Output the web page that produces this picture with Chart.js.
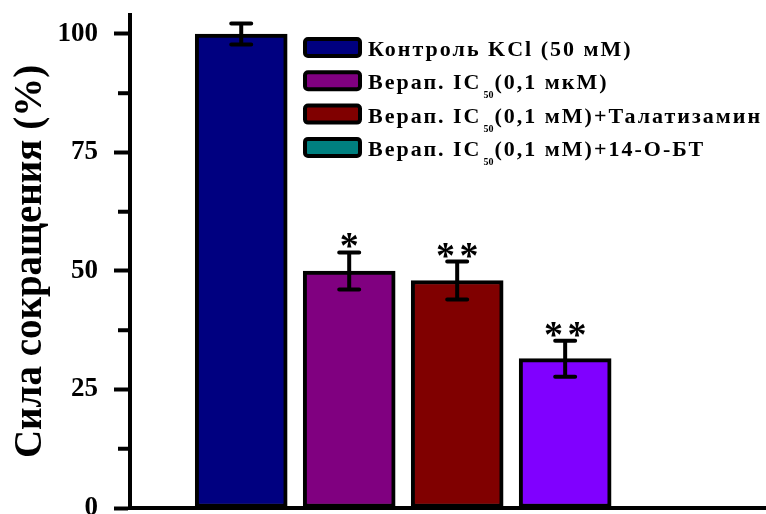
<!DOCTYPE html>
<html>
<head>
<meta charset="utf-8">
<script src="https://cdn.jsdelivr.net/npm/chart.js@4/dist/chart.umd.min.js"></script>
<style>
  html, body { margin: 0; padding: 0; background: #fff; }
  #wrap { width: 766px; height: 514px; }
</style>
</head>
<body>
<div id="wrap"><canvas id="myChart" width="766" height="514"></canvas></div>
<script>
// данные
const categories = [
  "Контроль KCl (50 мМ)",
  "Верап. IC_{50}(0,1 мкМ)",
  "Верап. IC_{50}(0,1 мМ)+Талатизамин",
  "Верап. IC_{50}(0,1 мМ)+14-О-БТ",
];
const values = [100, 50, 48, 31.5];
const errors = [2.2, 3.9, 4.0, 3.8];
const stars = ["", "*", "**", "**"];
const barColors = ["#000080", "#800080", "#800000", "#8000ff"];
const legendColors = ["#000080", "#800080", "#800000", "#008080"];
const yTicks = [0, 25, 50, 75, 100];
const yMinorTicks = [12.5, 37.5, 62.5, 87.5];

const FONT = '"Liberation Serif", "Times New Roman", serif';

// планки погрешностей и звёздочки
const errorBars = {
  id: "errorBars",
  afterDatasetsDraw(chart) {
    const ctx = chart.ctx;
    const y = chart.scales.y;
    const meta = chart.getDatasetMeta(0);
    ctx.save();
    ctx.strokeStyle = "#000";
    ctx.fillStyle = "#000";
    meta.data.forEach((bar, i) => {
      const top = y.getPixelForValue(values[i] + errors[i]);
      const bottom = y.getPixelForValue(values[i] - errors[i]);
      ctx.lineWidth = 4;
      ctx.lineCap = "butt";
      ctx.beginPath();
      ctx.moveTo(bar.x, top);
      ctx.lineTo(bar.x, bottom);
      ctx.stroke();
      ctx.lineCap = "round";
      ctx.beginPath();
      ctx.moveTo(bar.x - 10, top);
      ctx.lineTo(bar.x + 10, top);
      ctx.moveTo(bar.x - 10, bottom);
      ctx.lineTo(bar.x + 10, bottom);
      ctx.stroke();

      // звёздочки
      const s = stars[i];
      ctx.font = "bold 38px " + FONT;
      ctx.textAlign = "center";
      ctx.textBaseline = "alphabetic";
      const gap = 23.5;
      for (let k = 0; k < s.length; k++) {
        const sx = bar.x + (k - (s.length - 1) / 2) * gap;
        ctx.fillText(s[k], sx, top + 6);
      }
    });
    ctx.restore();
  },
};

// малые деления оси Y
const minorTicks = {
  id: "minorTicks",
  afterDraw(chart) {
    const ctx = chart.ctx;
    const y = chart.scales.y;
    ctx.save();
    ctx.strokeStyle = "#000";
    ctx.lineWidth = 4;
    yMinorTicks.forEach((v) => {
      const py = y.getPixelForValue(v);
      ctx.beginPath();
      ctx.moveTo(y.right - 12, py);
      ctx.lineTo(y.right, py);
      ctx.stroke();
    });
    ctx.restore();
  },
};

// легенда (с нижним индексом)
const customLegend = {
  id: "customLegend",
  afterDraw(chart) {
    const ctx = chart.ctx;
    ctx.save();
    categories.forEach((label, i) => {
      const cy = 47.5 + i * 33.3;
      // квадрат
      ctx.fillStyle = legendColors[i];
      ctx.strokeStyle = "#000";
      ctx.lineWidth = 4;
      ctx.beginPath();
      ctx.roundRect(305, cy - 8.5, 55, 17, 3);
      ctx.fill();
      ctx.stroke();

      // текст
      ctx.fillStyle = "#000";
      ctx.textAlign = "left";
      ctx.textBaseline = "alphabetic";
      const base = cy + 8.5;
      let x = 368;
      const parts = label.split(/_\{(.*?)\}/);
      parts.forEach((p, k) => {
        if (k % 2 === 1) {
          ctx.letterSpacing = "0px";
          ctx.font = "bold 10px " + FONT;
          ctx.fillText(p, x + 2, base + 9);
          x += ctx.measureText(p).width + 3;
        } else {
          ctx.letterSpacing = "2px";
          ctx.font = "bold 22px " + FONT;
          ctx.fillText(p, x, base);
          x += ctx.measureText(p).width;
        }
      });
    });
    ctx.restore();
  },
};

const ctx = document.getElementById("myChart").getContext("2d");
new Chart(ctx, {
  type: "bar",
  data: {
    datasets: [
      {
        data: values.map((v, i) => ({ x: i + 1, y: v })),
        backgroundColor: barColors,
        borderColor: "#000",
        borderWidth: 4,
        borderSkipped: false,
        barThickness: 92,
      },
    ],
  },
  options: {
    responsive: false,
    animation: false,
    devicePixelRatio: 1,
    layout: { padding: { top: 15, right: 0, bottom: 0, left: 0 } },
    plugins: {
      legend: { display: false },
      tooltip: { enabled: false },
    },
    scales: {
      x: {
        type: "linear",
        offset: false,
        min: -0.03,
        max: 5.86,
        grid: { display: false, drawTicks: false },
        ticks: { display: false },
        border: { display: true, color: "#000", width: 4 },
        afterFit(scale) {
          scale.height = 6;
          scale.paddingLeft = 0;
          scale.paddingRight = 0;
        },
      },
      y: {
        min: 0,
        max: 104,
        afterBuildTicks(scale) {
          scale.ticks = yTicks.map((v) => ({ value: v }));
        },
        ticks: {
          color: "#000",
          padding: 16,
          font: { family: FONT, size: 27, weight: "bold" },
        },
        grid: {
          drawOnChartArea: false,
          tickLength: 16,
          tickWidth: 4,
          tickColor: "#000",
        },
        border: { display: true, color: "#000", width: 4 },
        title: {
          display: true,
          text: "Сила сокращения (%)",
          color: "#000",
          padding: { top: 8, bottom: 0 },
          font: { family: FONT, size: 39, weight: "bold" },
        },
        afterFit(scale) {
          scale.width = 130;
          scale.paddingTop = 0;
          scale.paddingBottom = 0;
        },
      },
    },
  },
  plugins: [errorBars, minorTicks, customLegend],
});
</script>
</body>
</html>
